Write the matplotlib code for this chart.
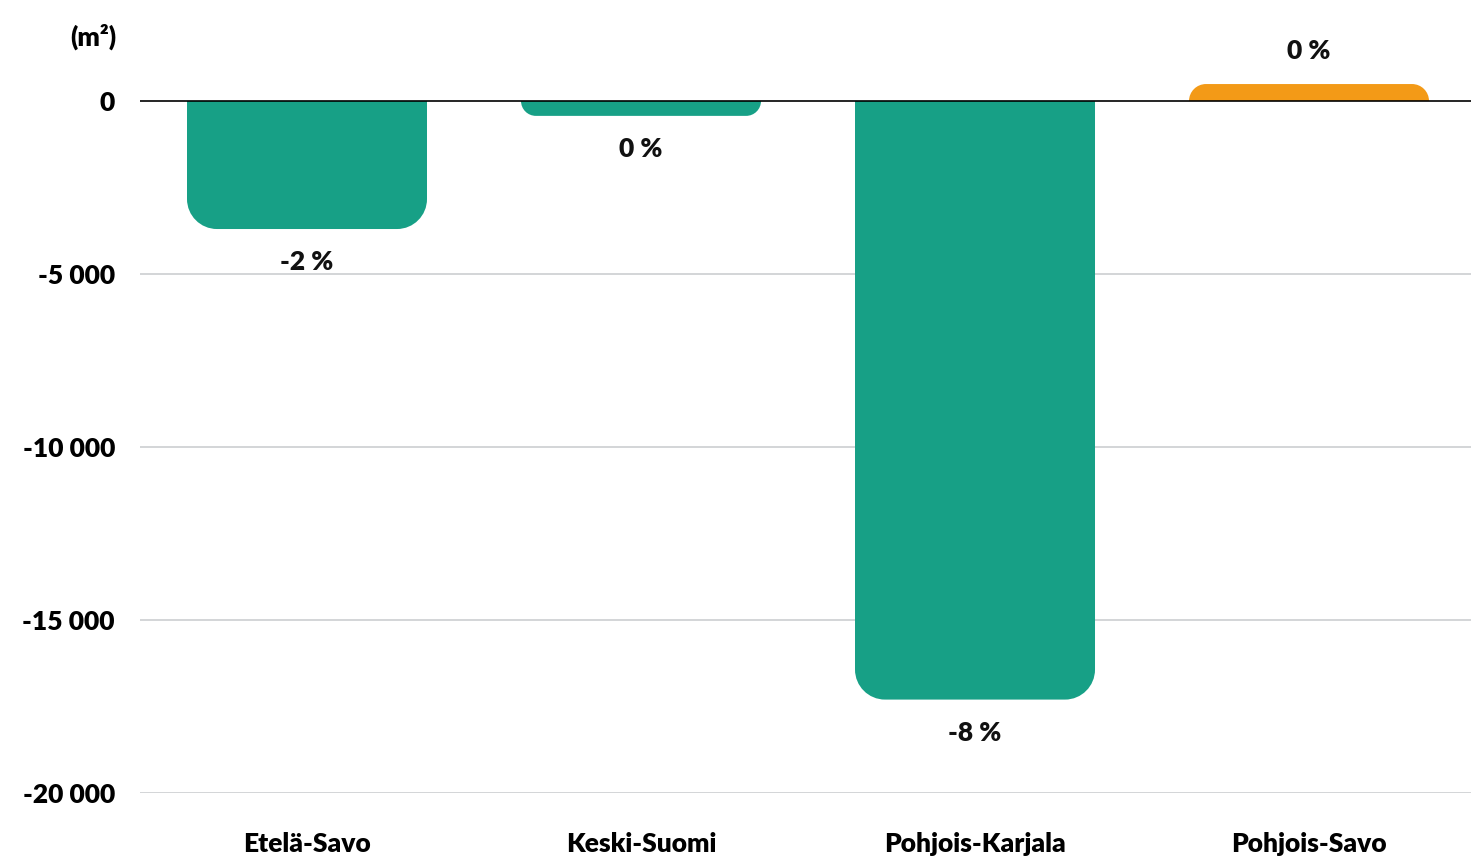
import matplotlib.pyplot as plt
from matplotlib.path import Path
from matplotlib.patches import PathPatch

# data (m2 change)
regions = ["Etelä-Savo", "Keski-Suomi", "Pohjois-Karjala", "Pohjois-Savo"]
values = [-3700, -430, -17300, 490]
pct_labels = ["-2 %", "0 %", "-8 %", "0 %"]
bar_colors = ["#17a086", "#17a086", "#17a086", "#f39a17"]
yticks = [0, -5000, -10000, -15000, -20000]

plt.rcParams['font.family'] = ['Lato', 'DejaVu Sans']
FS = 19
FW = 'heavy'

W, H, DPI = 1471, 856, 100
fig = plt.figure(figsize=(W / DPI, H / DPI), dpi=DPI)
ax_left, ax_bottom = 140 / W, (H - 793) / H
ax = fig.add_axes([ax_left, ax_bottom, 1 - ax_left, 1 - ax_bottom])

ymin, ymax = -20000, 2919
xmin, xmax = -0.5, 3.485
ax.set_xlim(xmin, xmax)
ax.set_ylim(ymin, ymax)

px_x = (W - 140) / (xmax - xmin)
px_y = 793 / (ymax - ymin)


def rounded_bar(ax, x, width, v, color, radius_px=30):
    # bar from 0 to v with only the far end rounded
    x0, x1 = x - width / 2, x + width / 2
    s = 1 if v >= 0 else -1
    r = min(radius_px, abs(v) * px_y)
    rx, ry = r / px_x, r / px_y
    k = 0.5523
    e = v - s * ry
    verts = [
        (x0, 0), (x0, e),
        (x0, e + s * k * ry), (x0 + rx - k * rx, v), (x0 + rx, v),
        (x1 - rx, v),
        (x1 - rx + k * rx, v), (x1, e + s * k * ry), (x1, e),
        (x1, 0), (x0, 0),
    ]
    codes = [Path.MOVETO, Path.LINETO,
             Path.CURVE4, Path.CURVE4, Path.CURVE4,
             Path.LINETO,
             Path.CURVE4, Path.CURVE4, Path.CURVE4,
             Path.LINETO, Path.CLOSEPOLY]
    ax.add_patch(PathPatch(Path(verts, codes), facecolor=color,
                           edgecolor='none', zorder=2))


bar_w = 240 / px_x
for i, (v, c, lab) in enumerate(zip(values, bar_colors, pct_labels)):
    rounded_bar(ax, i, bar_w, v, c)
    off = 33 / px_y
    ty = v - off if v < 0 else v + off
    ax.text(i, ty, lab, ha='center', va='center', fontsize=FS,
            fontweight=FW, color='#111111', zorder=4)

for t in yticks[1:]:
    ax.axhline(t, color='#c8cacd', linewidth=1.1, zorder=1)
ax.axhline(0, color='black', linewidth=1.2, zorder=3)

ax.set_yticks(yticks)
ax.set_yticklabels([f"{t:,}".replace(",", " ") for t in yticks],
                   fontsize=FS, fontweight=FW)
ax.set_xticks(range(len(regions)))
ax.set_xticklabels(regions, fontsize=FS, fontweight=FW)
ax.tick_params(axis='y', length=0, pad=18)
ax.tick_params(axis='x', length=0, pad=28)
for sp in ax.spines.values():
    sp.set_visible(False)

fig.text(93 / W, 1 - 37 / H, "(m²)", ha='center', va='center',
         fontsize=FS, fontweight=FW)

fig.savefig("out.png", dpi=DPI)
